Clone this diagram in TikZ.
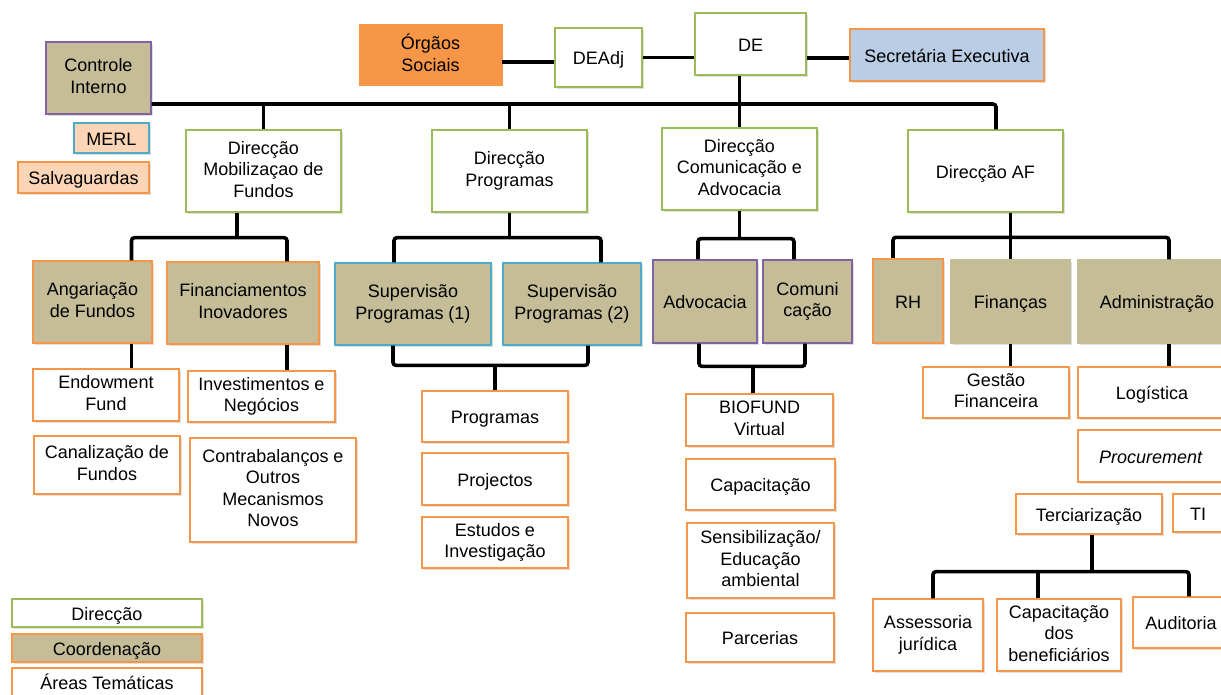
\documentclass[tikz,border=0pt]{standalone}
\usepackage{fontspec}
\setmainfont{Liberation Sans}
\usetikzlibrary{positioning,shadows}

\definecolor{tanfill}{HTML}{C4BD97}
\definecolor{orangeline}{HTML}{F79646}
\definecolor{greenline}{HTML}{9BBB59}
\definecolor{purpleline}{HTML}{8064A2}
\definecolor{blueline}{HTML}{4BACC6}
\definecolor{peachfill}{HTML}{FBD5B5}
\definecolor{secfill}{HTML}{B9CDE5}

\begin{document}
\begin{tikzpicture}[
    x=1pt, y=-1pt,
    txt/.style={align=center, font=\fontsize{18}{21.5}\selectfont,
        execute at begin node={\rule{0pt}{18pt}},
        execute at end node={\rule[-4pt]{0pt}{4pt}}},
    box/.style={draw, rectangle, txt, inner sep=2pt, line width=1.3pt,
        drop shadow={shadow xshift=1.5pt, shadow yshift=-1.5pt, opacity=0.25}},
    dirbox/.style={box, fill=white, draw=greenline},
    coordbox/.style={box, fill=tanfill, draw=orangeline},
    areabox/.style={box, fill=white, draw=orangeline},
    link/.style={line width=3.6pt, rounded corners=3pt}
]
\clip (0,0) rectangle (1221,694);
\fill[white] (0,0) rectangle (1221,694);

% Top: board and executive
\node[box, fill=tanfill, draw=purpleline, minimum width=105pt, minimum height=72pt] (ctrl) at (98.5,78) {Controle\\Interno};
\node[box, fill=peachfill, draw=blueline, minimum width=75pt, minimum height=30pt] (merl) at (111.5,138) {MERL};
\node[box, fill=peachfill, draw=orangeline, minimum width=131pt, minimum height=31pt] (salv) at (83.5,177.5) {Salvaguardas};
\node[txt, draw=orangeline, fill=orangeline, minimum width=143pt, minimum height=61pt] (orgaos) at (430.5,54.5) {Órgãos\\Sociais};
\node[dirbox, minimum width=87pt, minimum height=59pt] (deadj) at (598.5,57.5) {DEAdj};
\node[dirbox, minimum width=111pt, minimum height=62pt] (de) at (750.5,44) {DE};
\node[box, fill=secfill, draw=orangeline, line width=2pt, minimum width=194pt, minimum height=52pt] (sec) at (947,55) {Secretária Executiva};

% Directions
\node[dirbox, minimum width=155pt, minimum height=82pt] (dmf) at (263.5,171) {Direcção\\Mobilizaçao de\\Fundos};
\node[dirbox, minimum width=155pt, minimum height=82pt] (dprog) at (509.5,171) {Direcção\\Programas};
\node[dirbox, minimum width=155pt, minimum height=82pt] (dcom) at (739.5,169) {Direcção\\Comunicação e\\Advocacia};
\node[dirbox, minimum width=155pt, minimum height=82pt] (daf) at (985.5,171) {Direcção AF};

% Coordinations
\node[coordbox, minimum width=119pt, minimum height=82pt] (angar) at (92.5,302) {Angariação\\de Fundos};
\node[coordbox, minimum width=152pt, minimum height=82pt] (finov) at (243,303) {Financiamentos\\Inovadores};
\node[coordbox, draw=blueline, minimum width=156pt, minimum height=82pt] (sup1) at (413,304) {Supervisão\\Programas (1)};
\node[coordbox, draw=blueline, minimum width=138pt, minimum height=82pt] (sup2) at (572,304) {Supervisão\\Programas (2)};
\node[coordbox, draw=purpleline, minimum width=104pt, minimum height=83pt] (advoc) at (705,301.5) {Advocacia};
\node[coordbox, draw=purpleline, minimum width=89pt, minimum height=83pt] (comun) at (807.5,301.5) {Comuni\\cação};
\node[coordbox, line width=2.5pt, minimum width=70pt, minimum height=84pt] (rh) at (908,301) {RH};
\node[coordbox, draw=tanfill, minimum width=119pt, minimum height=83pt] (finan) at (1010.5,301.5) {Finanças};
\node[coordbox, draw=tanfill, minimum width=158pt, minimum height=83pt] (admin) at (1157,301.5) {Administração};

% Thematic areas
\node[areabox, minimum width=146pt, minimum height=52pt] (endow) at (106,395) {Endowment\\Fund};
\node[areabox, minimum width=146pt, minimum height=58pt] (canal) at (107,465) {Canalização de\\Fundos};
\node[areabox, minimum width=147pt, minimum height=51pt] (invest) at (261.5,396.5) {Investimentos e\\Negócios};
\node[areabox, minimum width=166pt, minimum height=104pt] (contra) at (273,490) {Contrabalanços e\\Outros\\Mecanismos\\Novos};
\node[areabox, minimum width=146pt, minimum height=51pt] (progr) at (495,416.5) {Programas};
\node[areabox, minimum width=146pt, minimum height=52pt] (proj) at (495,479) {Projectos};
\node[areabox, minimum width=146pt, minimum height=51pt] (estud) at (495,542.5) {Estudos e\\Investigação};
\node[areabox, minimum width=147pt, minimum height=52pt] (biof) at (759.5,420) {BIOFUND\\Virtual};
\node[areabox, minimum width=149pt, minimum height=51pt] (capac) at (760.5,484.5) {Capacitação};
\node[areabox, minimum width=147pt, minimum height=75pt] (sensib) at (760.5,560.5) {Sensibilização/\\Educação\\ambiental};
\node[areabox, minimum width=148pt, minimum height=49pt] (parc) at (760,637.5) {Parcerias};
\node[areabox, minimum width=146pt, minimum height=51pt] (gestf) at (996,392.5) {Gestão\\Financeira};
\node[areabox, minimum width=148pt, minimum height=51pt] (logist) at (1152,392.5) {Logística};
\node[areabox, minimum width=146pt, minimum height=52pt] (procur) at (1151,456) {\textit{Procurement}};
\node[areabox, minimum width=146pt, minimum height=40pt] (terc) at (1089,514) {Terciarização};
\node[areabox, minimum width=50pt, minimum height=38pt] (ti) at (1198,513) {TI};
\node[areabox, minimum width=110pt, minimum height=72pt] (assess) at (928,635) {Assessoria\\jurídica};
\node[areabox, minimum width=124pt, minimum height=72pt] (capben) at (1059,635) {Capacitação\\dos\\beneficiários};
\node[areabox, minimum width=96pt, minimum height=51pt] (audit) at (1181,622.5) {Auditoria};

% Legend
\node[dirbox, minimum width=190pt, minimum height=28pt] (legdir) at (107,613) {Direcção};
\node[coordbox, line width=2.5pt, minimum width=190pt, minimum height=28pt] (legcoord) at (107,648) {Coordenação};
\node[areabox, minimum width=190pt, minimum height=28pt] (legarea) at (107,682) {Áreas Temáticas};

% Connectors: top
\draw[link] ([yshift=-7.5]orgaos.east) -- ([yshift=-4.5]deadj.west);
\draw[link] (deadj.east) -- ([yshift=-13.5]de.west);
\draw[link] ([yshift=-14]de.east) -- ([yshift=-3]sec.west);
\coordinate (bar) at (ctrl.east |- 0,104);
\draw[link] (bar) -| ([xshift=10.5]daf.north);
\draw[link] (dmf.north |- bar) -- (dmf.north);
\draw[link] (dprog.north |- bar) -- (dprog.north);
\draw[link] (dcom.north |- de.south) -- (dcom.north);

% Connectors: directions to coordinations
\draw[link] ([xshift=-26.5]dmf.south) -- ++(0,25) coordinate (mobj);
\draw[link] ([xshift=39]angar.north) |- (mobj) -| ([xshift=44]finov.north);
\draw[link] (dprog.south) -- ++(0,25) coordinate (progj);
\draw[link] ([xshift=-19]sup1.north) |- (progj) -| ([xshift=29]sup2.north);
\draw[link] (dcom.south) -- ++(0,28) coordinate (comj);
\draw[link] ([xshift=-7]advoc.north) |- (comj) -| ([xshift=-13.5]comun.north);
\draw[link] (finan.north |- daf.south) -- (finan.north);
\draw[link] ([xshift=-15]rh.north) |- ([yshift=22]finan.north) -| ([xshift=12]admin.north);

% Connectors: coordinations to areas
\draw[link] ([xshift=39]angar.south) -- ([xshift=25.5]endow.north);
\draw[link] ([xshift=44]finov.south) -- ([xshift=25.5]invest.north);
\draw[link] ([xshift=-20]sup1.south) |- ([yshift=25]progr.north) -| ([xshift=16]sup2.south);
\draw[link] (progr.north) -- ([yshift=25]progr.north);
\draw[link] ([xshift=-6]advoc.south) |- ([xshift=-6.5,yshift=27]biof.north) -| ([xshift=-2.5]comun.south);
\draw[link] ([xshift=-6.5]biof.north) -- ([xshift=-6.5,yshift=27]biof.north);
\draw[link] (finan.south) -- ([xshift=14.5]gestf.north);
\draw[link] ([xshift=12]admin.south) -- ([xshift=17]logist.north);
\draw[link] ([xshift=3]terc.south) -- ([xshift=3,yshift=-37]terc.south);
\draw[link] ([xshift=5]assess.north) |- ([xshift=3,yshift=-37]terc.south) -| ([xshift=8]audit.north);
\draw[link] ([xshift=-21]capben.north) -- ([xshift=-21,yshift=28]capben.north);

\end{tikzpicture}
\end{document}
